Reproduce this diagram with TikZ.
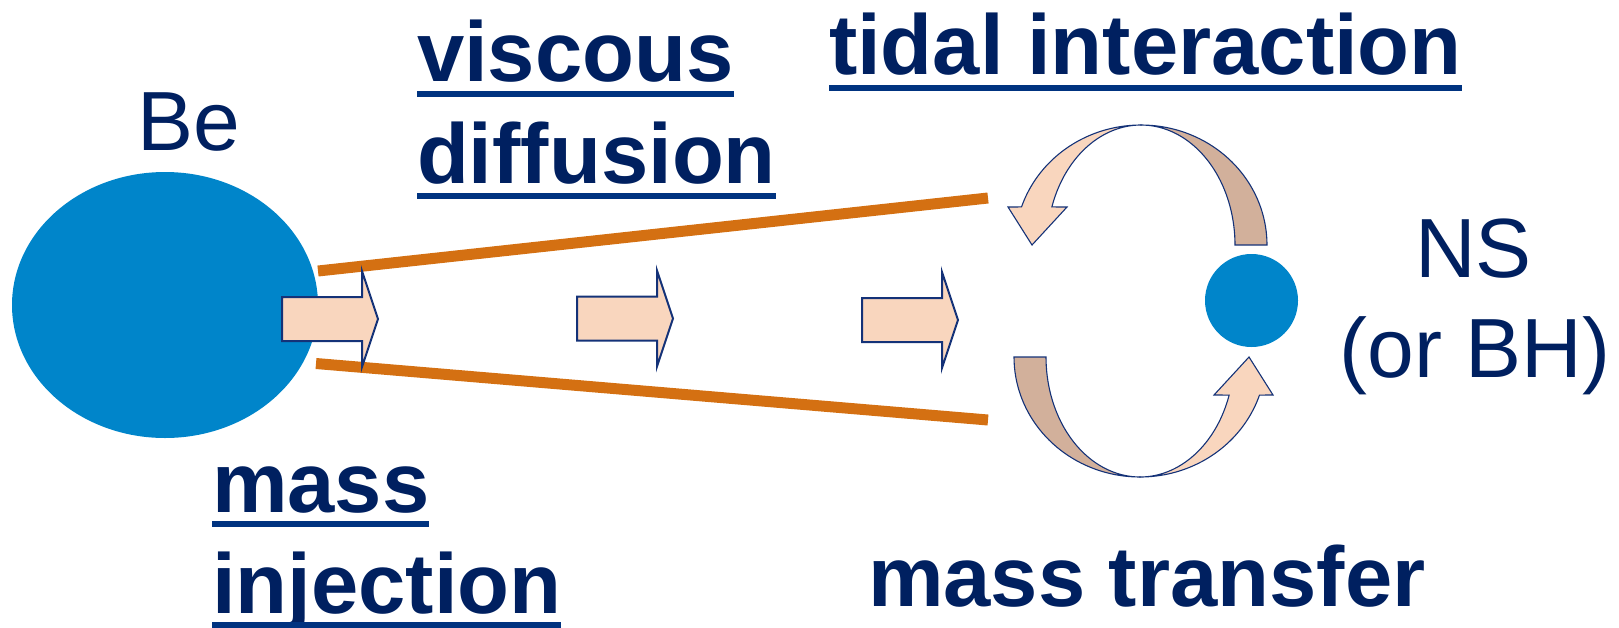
\documentclass[tikz,border=0pt]{standalone}
\usepackage{fontspec}
\setmainfont{Liberation Sans}
\usetikzlibrary{shapes.geometric}
\definecolor{beblue}{RGB}{0,133,202}
\definecolor{navy}{RGB}{0,32,96}
\definecolor{ulblue}{RGB}{0,51,128}
\definecolor{diskorange}{RGB}{212,112,18}
\definecolor{peach}{RGB}{249,214,190}
\definecolor{tan}{RGB}{210,176,155}
\definecolor{edge}{RGB}{20,50,120}
\begin{document}
\begin{tikzpicture}[x=1pt,y=-1pt,
  lbl/.style={inner sep=0pt, outer sep=0pt, anchor=base west, text=navy,
    font=\fontsize{85}{102}\selectfont\bfseries},
  starlbl/.style={inner sep=0pt, outer sep=0pt, anchor=base, text=navy,
    font=\fontsize{84}{100}\selectfont},
  uline/.style={draw=ulblue, line width=6pt},
  disk/.style={draw=diskorange, line width=11pt},
  barrow/.style={fill=peach, draw=edge, line width=2pt, line join=miter},
  front/.style={fill=peach, draw=edge, line width=1.1pt},
  back/.style={fill=tan, draw=edge, line width=1.1pt},
  blockarrow/.pic={\path[barrow] (0,-22) -- (80,-22) -- (80,-48) -- (96,0)
      -- (80,48) -- (80,22) -- (0,22) -- cycle;},
  curvedarrow/.pic={
    \path[back] plot[domain=0:-90, samples=40, variable=\t]
        ({126*cos(\t)},{120*sin(\t)})
      -- plot[domain=-90:0, samples=40, variable=\t]
        ({94*cos(\t)},{120*sin(\t)}) -- cycle;
    \path[front] plot[domain=-90:-161.5, samples=40, variable=\t]
        ({126*cos(\t)},{120*sin(\t)})
      -- (-133,-38) -- (-109,0) -- (-74,-38)
      -- plot[domain=-161.5:-90, samples=40, variable=\t]
        ({94*cos(\t)},{120*sin(\t)}) -- cycle;}
]
\useasboundingbox (0,0) rectangle (1619,627);

% stars
\node[ellipse, fill=beblue, minimum width=306pt, minimum height=266pt, inner sep=0pt] (be) at (165,305) {};

% disk edges
\coordinate (u1) at (318,271);
\coordinate (u2) at (988,198);
\coordinate (l1) at (316,363.5);
\coordinate (l2) at (988,420);
\draw[disk] (u1) -- (u2);
\draw[disk] (l1) -- (l2);

% block arrows
\pic (a1) at (282,319) {blockarrow};
\pic (a2) at (577,318.5) {blockarrow};
\pic (a3) at (862,320) {blockarrow};

% curved arrows
\pic (c1) at (1141,245) {curvedarrow};
\pic[rotate=180] (c2) at (1140,357) {curvedarrow};

\node[circle, fill=beblue, minimum size=93pt, inner sep=0pt] (ns) at (1251.5,300.5) {};

% labels
\node[starlbl] (betxt) at (188.5,150) {Be};
\node[starlbl] (nstxt) at (1473.5,277) {NS};
\node[starlbl] (bhtxt) at (1475,377) {(or BH)};

\node[lbl] (visc) at (417,81) {viscous};
\node[lbl] (diff) at (417,183) {diffusion};
\node[lbl] (tidal) at (829,74) {tidal interaction};
\node[lbl] (mass) at (212,512) {mass};
\node[lbl] (inj) at (212,613) {injection};
\node[lbl] (transf) at (868,606) {mass transfer};

\draw[uline] ([yshift=-13pt]visc.base west) -- ([yshift=-13pt]visc.base east);
\draw[uline] ([yshift=-13pt]diff.base west) -- ([yshift=-13pt]diff.base east);
\draw[uline] ([yshift=-14pt]tidal.base west) -- ([yshift=-14pt]tidal.base east);
\draw[uline] ([yshift=-12pt]mass.base west) -- ([yshift=-12pt]mass.base east);
\draw[uline] ([yshift=-12pt]inj.base west) -- ([yshift=-12pt]inj.base east);
\end{tikzpicture}
\end{document}
